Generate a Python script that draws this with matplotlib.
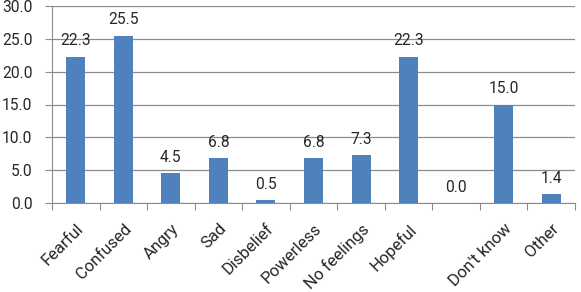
import matplotlib
matplotlib.use("Agg")
import matplotlib.pyplot as plt
import numpy as np

categories = ["Fearful", "Confused", "Angry", "Sad", "Disbelief", "Powerless",
              "No feelings", "Hopeful", "", "Don't know", "Other"]
values = [22.3, 25.5, 4.5, 6.8, 0.5, 6.8, 7.3, 22.3, 0.0, 15.0, 1.4]

plt.rcParams['font.family'] = ['Roboto', 'DejaVu Sans']
fig = plt.figure(figsize=(5.81, 2.92), dpi=100)
ax = fig.add_axes([52/581, 1-203/292, (575-52)/581, (203-6)/292])

FS = 11.2
TXT = "#262626"
x = np.arange(len(categories))
ax.bar(x, values, width=0.4, color="#4F81BD", zorder=3)
for xi, v in zip(x, values):
    ax.annotate(f"{v:.1f}", (xi, v), xytext=(0, 8), textcoords="offset points",
                ha="center", va="baseline", fontsize=FS, color=TXT, zorder=4)

ax.set_xlim(-0.5, len(categories) - 0.5)
ax.set_ylim(0, 30)
ax.set_yticks(np.arange(0, 31, 5))
ax.set_yticklabels([f"{t:.1f}" for t in np.arange(0, 31, 5)], fontsize=FS, color=TXT)
ax.yaxis.grid(True, color="#8c8c8c", linewidth=0.9, zorder=0)
ax.set_axisbelow(True)

ax.set_xticks(np.arange(-0.5, len(categories) + 0.5, 1))
ax.set_xticklabels([])
ax.set_xticks(x, minor=True)
ax.set_xticklabels(categories, minor=True, rotation=45, ha="right", rotation_mode="anchor",
                   fontsize=12, color=TXT)
ax.tick_params(axis="x", which="minor", length=0, pad=13)
ax.tick_params(axis="x", which="major", length=5, color="#8c8c8c")
ax.tick_params(axis="y", length=5, color="#8c8c8c", pad=9)

for s in ["top", "right"]:
    ax.spines[s].set_visible(False)
for s in ["left", "bottom"]:
    ax.spines[s].set_color("#8c8c8c")

fig.savefig("out.png", dpi=100)
